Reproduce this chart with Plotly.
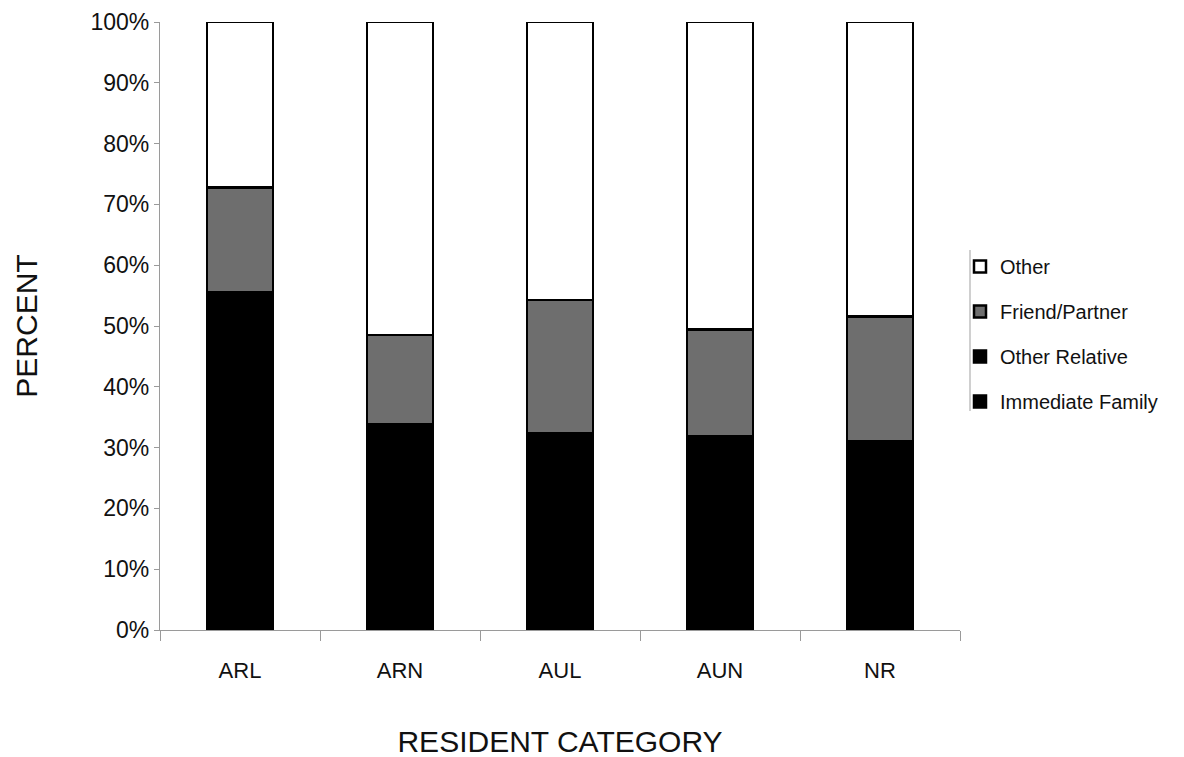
import plotly.graph_objects as go

categories = ["ARL", "ARN", "AUL", "AUN", "NR"]
immediate_family = [0.530, 0.320, 0.305, 0.300, 0.295]
other_relative = [0.025, 0.018, 0.018, 0.018, 0.015]
friend_partner = [0.173, 0.147, 0.220, 0.176, 0.206]
other = [0.272, 0.515, 0.457, 0.506, 0.484]

series = [
    ("Immediate Family", immediate_family, "#000000", 4),
    ("Other Relative", other_relative, "#000000", 3),
    ("Friend/Partner", friend_partner, "#6e6e6e", 2),
    ("Other", other, "#ffffff", 1),
]

FONT = "Liberation Sans, Arial, sans-serif"

fig = go.Figure()
for name, vals, col, rank in series:
    fig.add_trace(go.Bar(
        x=categories, y=vals, name=name, legendgroup=name, legendrank=rank,
        marker=dict(color=col, line=dict(color="#000000", width=2.5)),
    ))

fig.update_layout(
    barmode="stack",
    bargap=0.59,
    width=1184, height=757,
    margin=dict(l=152, r=232, t=14, b=135, autoexpand=False),
    paper_bgcolor="white", plot_bgcolor="white",
    font=dict(family=FONT, color="#111111"),
    legend=dict(
        x=1.0, y=0.63, xanchor="left", yanchor="top",
        traceorder="grouped", tracegroupgap=16,
        font=dict(size=20, family=FONT, color="#111111"),
        itemwidth=30, bgcolor="rgba(0,0,0,0)",
    ),
    xaxis=dict(
        showline=True, linecolor="#9a9a9a", linewidth=1.2,
        ticks="outside", tickson="boundaries", ticklen=10, tickcolor="#9a9a9a",
        tickfont=dict(size=22), ticklabelstandoff=20,
        showgrid=False,
        title=dict(text="RESIDENT CATEGORY", font=dict(size=30), standoff=49),
    ),
    yaxis=dict(
        range=[0, 1], tickformat=".0%", dtick=0.1,
        showline=True, linecolor="#9a9a9a", linewidth=1.2,
        ticks="outside", ticklen=5, tickcolor="#9a9a9a",
        tickfont=dict(size=23), showgrid=False, zeroline=False,
        title=dict(text="PERCENT", font=dict(size=30), standoff=43),
    ),
    shapes=[dict(type="line", xref="paper", yref="paper",
                 x0=1.0125, x1=1.0125, y0=0.36, y1=0.625,
                 line=dict(color="#b0b0b0", width=1.2))],
)

fig.write_html("out.html")
